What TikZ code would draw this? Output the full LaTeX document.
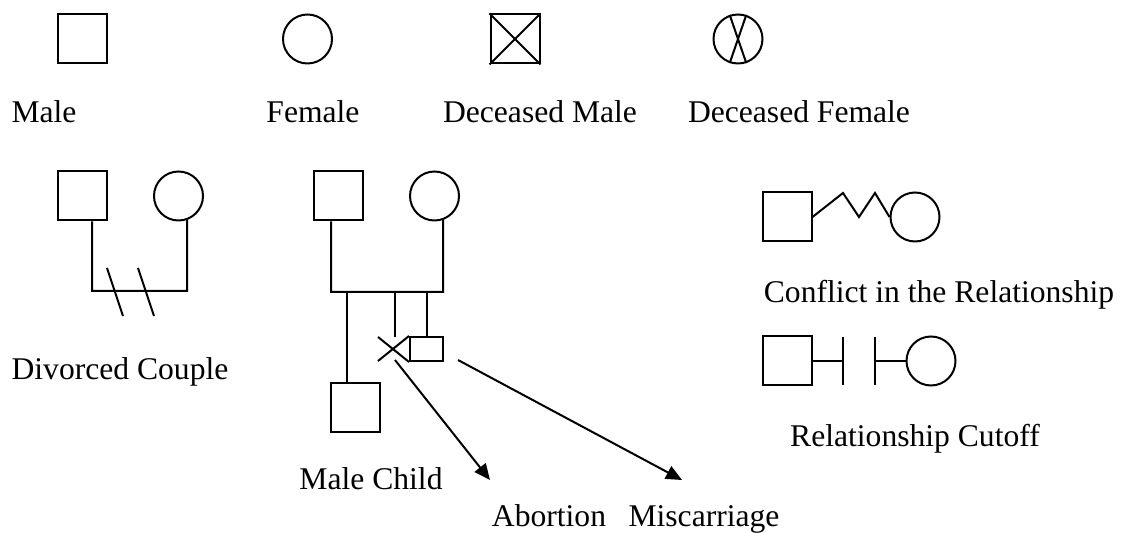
\documentclass[tikz,border=0pt]{standalone}
\usepackage{fontspec}
\setmainfont{Liberation Serif}
\usetikzlibrary{arrows.meta, calc}
\tikzset{
  male/.style={draw, rectangle, minimum size=24.5pt, inner sep=0pt},
  female/.style={draw, circle, minimum size=24.5pt, inner sep=0pt},
  lbl/.style={anchor=base, inner sep=0pt, font=\fontsize{15.8}{19}\selectfont},
  pointer/.style={-{Triangle[length=8pt, width=7pt]}}
}

\begin{document}
\begin{tikzpicture}[x=0.5pt, y=-0.5pt, line width=1pt]
  \useasboundingbox (0,0) rectangle (1125,533);

  % ── Key symbols ─────────────────────────────────────────────────
  \node[male]   (m0)  at (82.5, 39)  {};
  \node[female] (f0)  at (307.5,39)  {};
  \node[male]   (dM)  at (515,  39)  {};
  \node[female] (dF)  at (738,  39)  {};

  \draw (dM.north west) -- (dM.south east);
  \draw (dM.south west) -- (dM.north east);
  \draw (dF.109) -- (dF.289);
  \draw (dF.71)  -- (dF.251);

  \node[lbl] (tMale)   at (44,  123) {Male};
  \node[lbl] (tFemale) at (313, 123) {Female};
  \node[lbl] (tdM)     at (540, 123) {Deceased Male};
  \node[lbl] (tdF)     at (799, 123) {Deceased Female};

  % ── Divorced couple ─────────────────────────────────────────────
  \node[male]   (m1) at (82.5, 196) {};
  \node[female] (f1) at (178.5,196) {};
  \coordinate (dL) at (92,  291);
  \coordinate (dR) at (187, 291);

  \draw ($(m1.south)+(9.5,0)$) -- (dL) -- (dR) -- (f1.290);
  \draw (107,268) -- (123,316);
  \draw (138,268) -- (154,316);

  \node[lbl] (tDiv) at (120, 380) {Divorced Couple};

  % ── Family with children ────────────────────────────────────────
  \node[male]   (m2) at (338.5,196) {};
  \node[female] (f2) at (434.5,196) {};
  \coordinate (pL) at (331, 292);
  \coordinate (pR) at (443, 292);

  \draw ($(m2.south)+(-7.5,0)$) -- (pL) -- (pR) -- (f2.290);

  \node[male] (mc) at (355,408) {};
  \node[draw, rectangle, minimum width=16.5pt, minimum height=12pt,
        inner sep=0pt] (mis) at (426.5,349) {};
  \coordinate (abTop) at (395, 337);

  \draw (347,292) -- ($(mc.north)+(-8,0)$);
  \draw (395,292) -- (abTop);
  \draw (mis.north |- pL) -- (mis.north);

  % abortion cross
  \draw (378,337) -- (mis.south west);
  \draw (378,361) -- (mis.north west);

  \coordinate (abFrom)  at (395, 360);
  \coordinate (abTo)    at (490, 480);
  \coordinate (misFrom) at (458, 360);
  \coordinate (misTo)   at (682, 480);
  \draw[pointer] (abFrom)  -- (abTo);
  \draw[pointer] (misFrom) -- (misTo);

  \node[lbl] (tChild) at (371, 490) {Male Child};
  \node[lbl] (tAb)    at (549, 527) {Abortion};
  \node[lbl] (tMis)   at (704, 527) {Miscarriage};

  % ── Conflict ────────────────────────────────────────────────────
  \node[male]   (cS) at (787,217) {};
  \node[female] (cF) at (915,217) {};
  \draw (cS.east) -- (843,193) -- (859,217) -- (875,193) -- (cF.west);

  \node[lbl] (tConf) at (939, 303) {Conflict in the Relationship};

  % ── Cutoff ──────────────────────────────────────────────────────
  \node[male]   (kS) at (787,361) {};
  \node[female] (kF) at (931,361) {};
  \draw (kS.east) -- (843,361);
  \draw (843,337) -- (843,385);
  \draw (875,337) -- (875,385);
  \draw (875,361) -- (kF.west);

  \node[lbl] (tCut) at (915, 447) {Relationship Cutoff};
\end{tikzpicture}
\end{document}
